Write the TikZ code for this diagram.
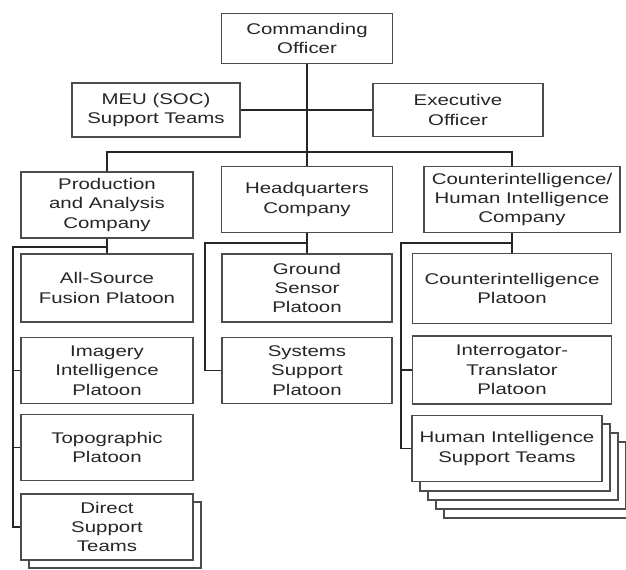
\documentclass[tikz,border=0pt]{standalone}
\usepackage{fontspec}
\setmainfont{Liberation Sans}[FakeStretch=1.32]
\begin{document}
\begin{tikzpicture}[x=0.75pt,y=-0.75pt,
    box/.style={draw=black!70,line width=0.9pt,fill=white,align=center,
      inner sep=1pt,minimum width=129pt,minimum height=50pt,text=black!85,
      font=\fontsize{11.6}{14.5}\selectfont},
    link/.style={draw=black!85,line width=1.4pt}]
  \useasboundingbox (0,0) rectangle (626,570);
  \draw[box] (29,502) rectangle (201,568);
  \foreach \k in {4,3,2,1}
    \draw[box] (412+8*\k,415+9*\k) rectangle (602+8*\k,482+9*\k);
  \draw
    (307,38.5) node[box,minimum width=128pt,minimum height=38pt] (co){Commanding\\Officer}
    (156,110) node[box,minimum width=126pt,minimum height=40.5pt] (meu){MEU (SOC)\\Support Teams}
    (458,110) node[box,minimum width=127.5pt,minimum height=40pt] (xo){Executive\\Officer}
    (107,205) node[box,minimum height=49.5pt] (prod){Production\\and Analysis\\Company}
    (307,199.5) node[box,minimum width=128pt,minimum height=49pt] (hq){Headquarters\\Company}
    (522,199.5) node[box,minimum width=147pt,minimum height=49pt] (ci){Counterintelligence/\\Human Intelligence\\Company}
    (107,288) node[box,minimum height=51pt] (as){All-Source\\Fusion Platoon}
    (107,370.5) node[box] (img){Imagery\\Intelligence\\Platoon}
    (107,447.5) node[box,minimum height=49pt] (topo){Topographic\\Platoon}
    (107,527) node[box,minimum height=49.5pt] (dst){Direct\\Support\\Teams}
    (307,288) node[box,minimum width=127.5pt,minimum height=51pt] (gs){Ground\\Sensor\\Platoon}
    (307,370.5) node[box,minimum width=127.5pt] (ssp){Systems\\Support\\Platoon}
    (512,288.5) node[box,minimum width=149pt,minimum height=52pt] (cip){Counterintelligence\\Platoon}
    (512,370) node[box,minimum width=149pt,minimum height=51pt] (itp){Interrogator-\\Translator\\Platoon}
    (507,448.5) node[box,minimum width=142.5pt,minimum height=50pt] (hst){Human Intelligence\\Support Teams};
  \coordinate (busr) at (512,152);
  \coordinate (pa-rail) at (13,247);
  \coordinate (hq-rail) at (205,243);
  \coordinate (ci-rail) at (401,243);
  \begin{scope}[link]
    \draw (co) to (hq);
    \draw (meu) to (xo);
    \draw (prod.north) |- (busr) -- (busr |- ci.north);
    \draw (prod.south) to (as.north);
    \draw (prod.south |- pa-rail) -- (pa-rail) |- (dst.west);
    \draw (pa-rail |- img.west) to (img.west);
    \draw (pa-rail |- topo.west) to (topo.west);
    \draw (hq.south) to (gs.north);
    \draw (hq.south |- hq-rail) -- (hq-rail) |- (ssp.west);
    \draw (ci.south -| cip.north) to (cip.north);
    \draw (ci-rail -| cip.north) -- (ci-rail) |- (hst.west);
    \draw (ci-rail |- itp.west) to (itp.west);
  \end{scope}
\end{tikzpicture}
\end{document}
